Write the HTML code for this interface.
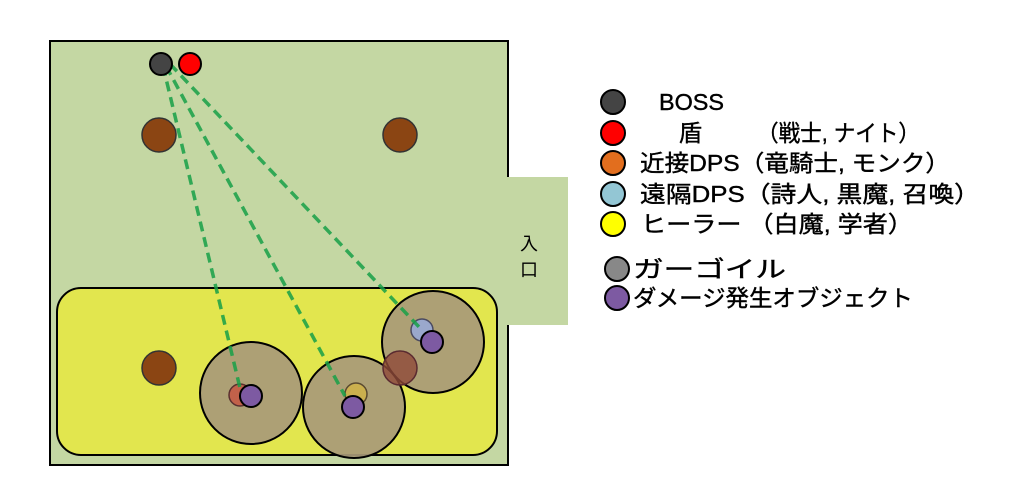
<!DOCTYPE html>
<html><head><meta charset="utf-8"><style>
body{margin:0;background:#fff;width:1011px;height:479px;overflow:hidden}
text{font-family:"Liberation Sans","Noto Sans CJK JP",sans-serif;font-size:23px;fill:#000;stroke:#000;stroke-width:0.4}
</style></head><body>
<svg width="1011" height="479" xmlns="http://www.w3.org/2000/svg">
<rect x="50" y="41" width="458" height="424" fill="#c4d7a3" stroke="#000" stroke-width="2"/>
<rect x="507" y="177" width="61" height="148" fill="#c4d7a3"/>
<line x1="508" y1="41" x2="508" y2="177" stroke="#000" stroke-width="2"/>
<line x1="508" y1="325" x2="508" y2="465" stroke="#000" stroke-width="2"/>
<text x="520" y="250" style="font-size:18px;stroke-width:0">入</text>
<text x="520" y="276" style="font-size:18px;stroke-width:0">口</text>
<rect x="57" y="288" width="440" height="167" rx="24" fill="#e2e64e" stroke="#000" stroke-width="2"/>
<circle cx="159" cy="135" r="17" fill="#8b4513" stroke="#333" stroke-width="1.5"/>
<circle cx="400" cy="135" r="17" fill="#8b4513" stroke="#333" stroke-width="1.5"/>
<circle cx="159" cy="368" r="17" fill="#8b4513" stroke="#333" stroke-width="1.5"/>
<g fill="#a89a78" fill-opacity="0.92" stroke="#000" stroke-width="2">
<circle cx="251" cy="393" r="51"/>
<circle cx="354" cy="407" r="51"/>
<circle cx="433" cy="342" r="51"/>
</g>
<circle cx="400" cy="368" r="17" fill="#8e4a3a" fill-opacity="0.8" stroke="#5a2a30" stroke-width="1.5"/>
<circle cx="240" cy="395" r="11" fill="#c2614a" stroke="#5a3030" stroke-width="1.5"/>
<circle cx="356" cy="394" r="11" fill="#cbb04e" stroke="#5a4a30" stroke-width="1.5"/>
<circle cx="422" cy="330" r="11" fill="#9aa8cc" stroke="#4a4a60" stroke-width="1.5"/>
<g stroke="#18a048" stroke-width="3.5" stroke-dasharray="10,6" fill="none" opacity="0.85">
<line x1="163" y1="66" x2="240" y2="388"/>
<line x1="166" y1="66" x2="345" y2="396"/>
<line x1="170" y1="64" x2="420" y2="328"/>
</g>
<g fill="#7d5aa2" stroke="#000" stroke-width="2">
<circle cx="251" cy="396" r="11"/>
<circle cx="353" cy="407" r="11"/>
<circle cx="432" cy="342" r="11"/>
</g>
<circle cx="161" cy="64" r="11" fill="#444" stroke="#000" stroke-width="2"/>
<circle cx="190" cy="64" r="11" fill="#f00" stroke="#000" stroke-width="2"/>
<g stroke="#000" stroke-width="2">
<circle cx="613" cy="102" r="12" fill="#444"/>
<circle cx="613" cy="133" r="12" fill="#f00"/>
<circle cx="613" cy="163" r="12" fill="#e26e1e"/>
<circle cx="613" cy="194" r="12" fill="#93c6d4"/>
<circle cx="613" cy="224" r="12" fill="#ff0"/>
<circle cx="617" cy="269" r="12" fill="#888"/>
<circle cx="617" cy="298" r="12" fill="#7d5aa2"/>
</g>
<text x="659" y="110" textLength="65" lengthAdjust="spacingAndGlyphs">BOSS</text>
<text x="679" y="141">盾</text>
<text x="757" y="141" textLength="163" lengthAdjust="spacingAndGlyphs">（戦士, ナイト）</text>
<text x="640" y="171" textLength="310" lengthAdjust="spacingAndGlyphs">近接DPS（竜騎士, モンク）</text>
<text x="640" y="202" textLength="340" lengthAdjust="spacingAndGlyphs">遠隔DPS（詩人, 黒魔, 召喚）</text>
<text x="641" y="232" textLength="272" lengthAdjust="spacingAndGlyphs">ヒーラー （白魔, 学者）</text>
<text x="633" y="277" textLength="153" lengthAdjust="spacingAndGlyphs">ガーゴイル</text>
<text x="633" y="306" textLength="280" lengthAdjust="spacingAndGlyphs">ダメージ発生オブジェクト</text>
</svg>
</body></html>
